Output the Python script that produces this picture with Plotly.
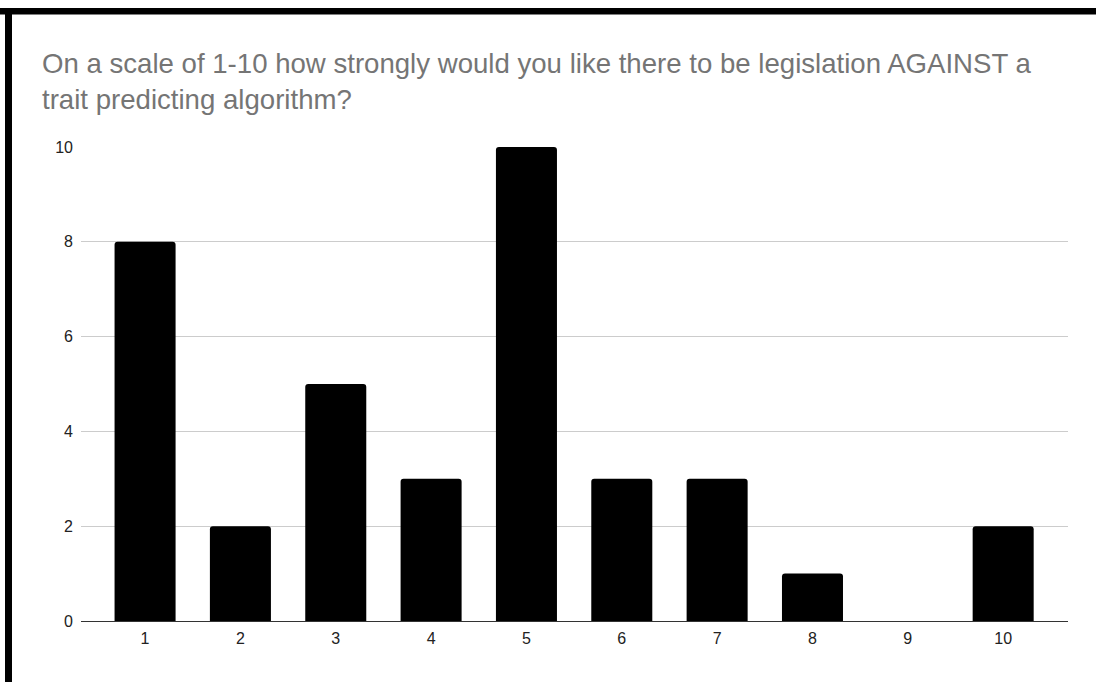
import plotly.graph_objects as go

# Survey responses: rating (1-10) and number of respondents
ratings = [1, 2, 3, 4, 5, 6, 7, 8, 9, 10]
counts = [8, 2, 5, 3, 10, 3, 3, 1, 0, 2]
y_ticks = [0, 2, 4, 6, 8, 10]

title_text = ("On a scale of 1-10 how strongly would you like there to be legislation AGAINST a"
              "<br>trait predicting algorithm?")

W, H = 1096, 682
L, R, T, B = 81, 28, 147, 61
plot_w = W - L - R
plot_h = H - T - B


def px_x(x):
    return (x - L) / plot_w


def px_y(y):
    return (H - B - y) / plot_h


fig = go.Figure(
    go.Bar(
        x=ratings,
        y=counts,
        width=0.64,
        marker=dict(color="#000000", cornerradius=3, line=dict(width=0)),
        hoverinfo="x+y",
    )
)

fig.update_layout(
    width=W,
    height=H,
    margin=dict(l=L, r=R, t=T, b=B),
    paper_bgcolor="#ffffff",
    plot_bgcolor="#ffffff",
    font=dict(family="Liberation Sans, Arial, sans-serif", size=16, color="#222222"),
    title=dict(
        text=title_text,
        font=dict(family="Liberation Sans, Arial, sans-serif", size=27.6, color="#757575"),
        x=42 / W,
        xanchor="left",
        xref="container",
        y=1 - 73 / H,
        yanchor="top",
        yref="container",
    ),
    showlegend=False,
    xaxis=dict(
        range=[0.328, 10.68],
        tickmode="array",
        tickvals=ratings,
        ticktext=[str(r) for r in ratings],
        showgrid=False,
        zeroline=False,
        showline=False,
        ticks="",
        ticklabelstandoff=6,
        fixedrange=True,
    ),
    yaxis=dict(
        range=[0, 10],
        tickmode="array",
        tickvals=y_ticks,
        showgrid=True,
        gridcolor="#cccccc",
        gridwidth=1,
        zeroline=True,
        zerolinecolor="#333333",
        zerolinewidth=1,
        showline=False,
        ticks="",
        ticklabelstandoff=7,
        fixedrange=True,
    ),
    shapes=[
        # frame edges along the top and left of the page
        dict(type="rect", xref="paper", yref="paper",
             x0=px_x(0), x1=px_x(W), y0=px_y(14.5), y1=px_y(8),
             fillcolor="#000000", line=dict(width=0), layer="above"),
        dict(type="rect", xref="paper", yref="paper",
             x0=px_x(5), x1=px_x(12), y0=px_y(H), y1=px_y(8),
             fillcolor="#000000", line=dict(width=0), layer="above"),
    ],
)

fig.write_html("out.html")
